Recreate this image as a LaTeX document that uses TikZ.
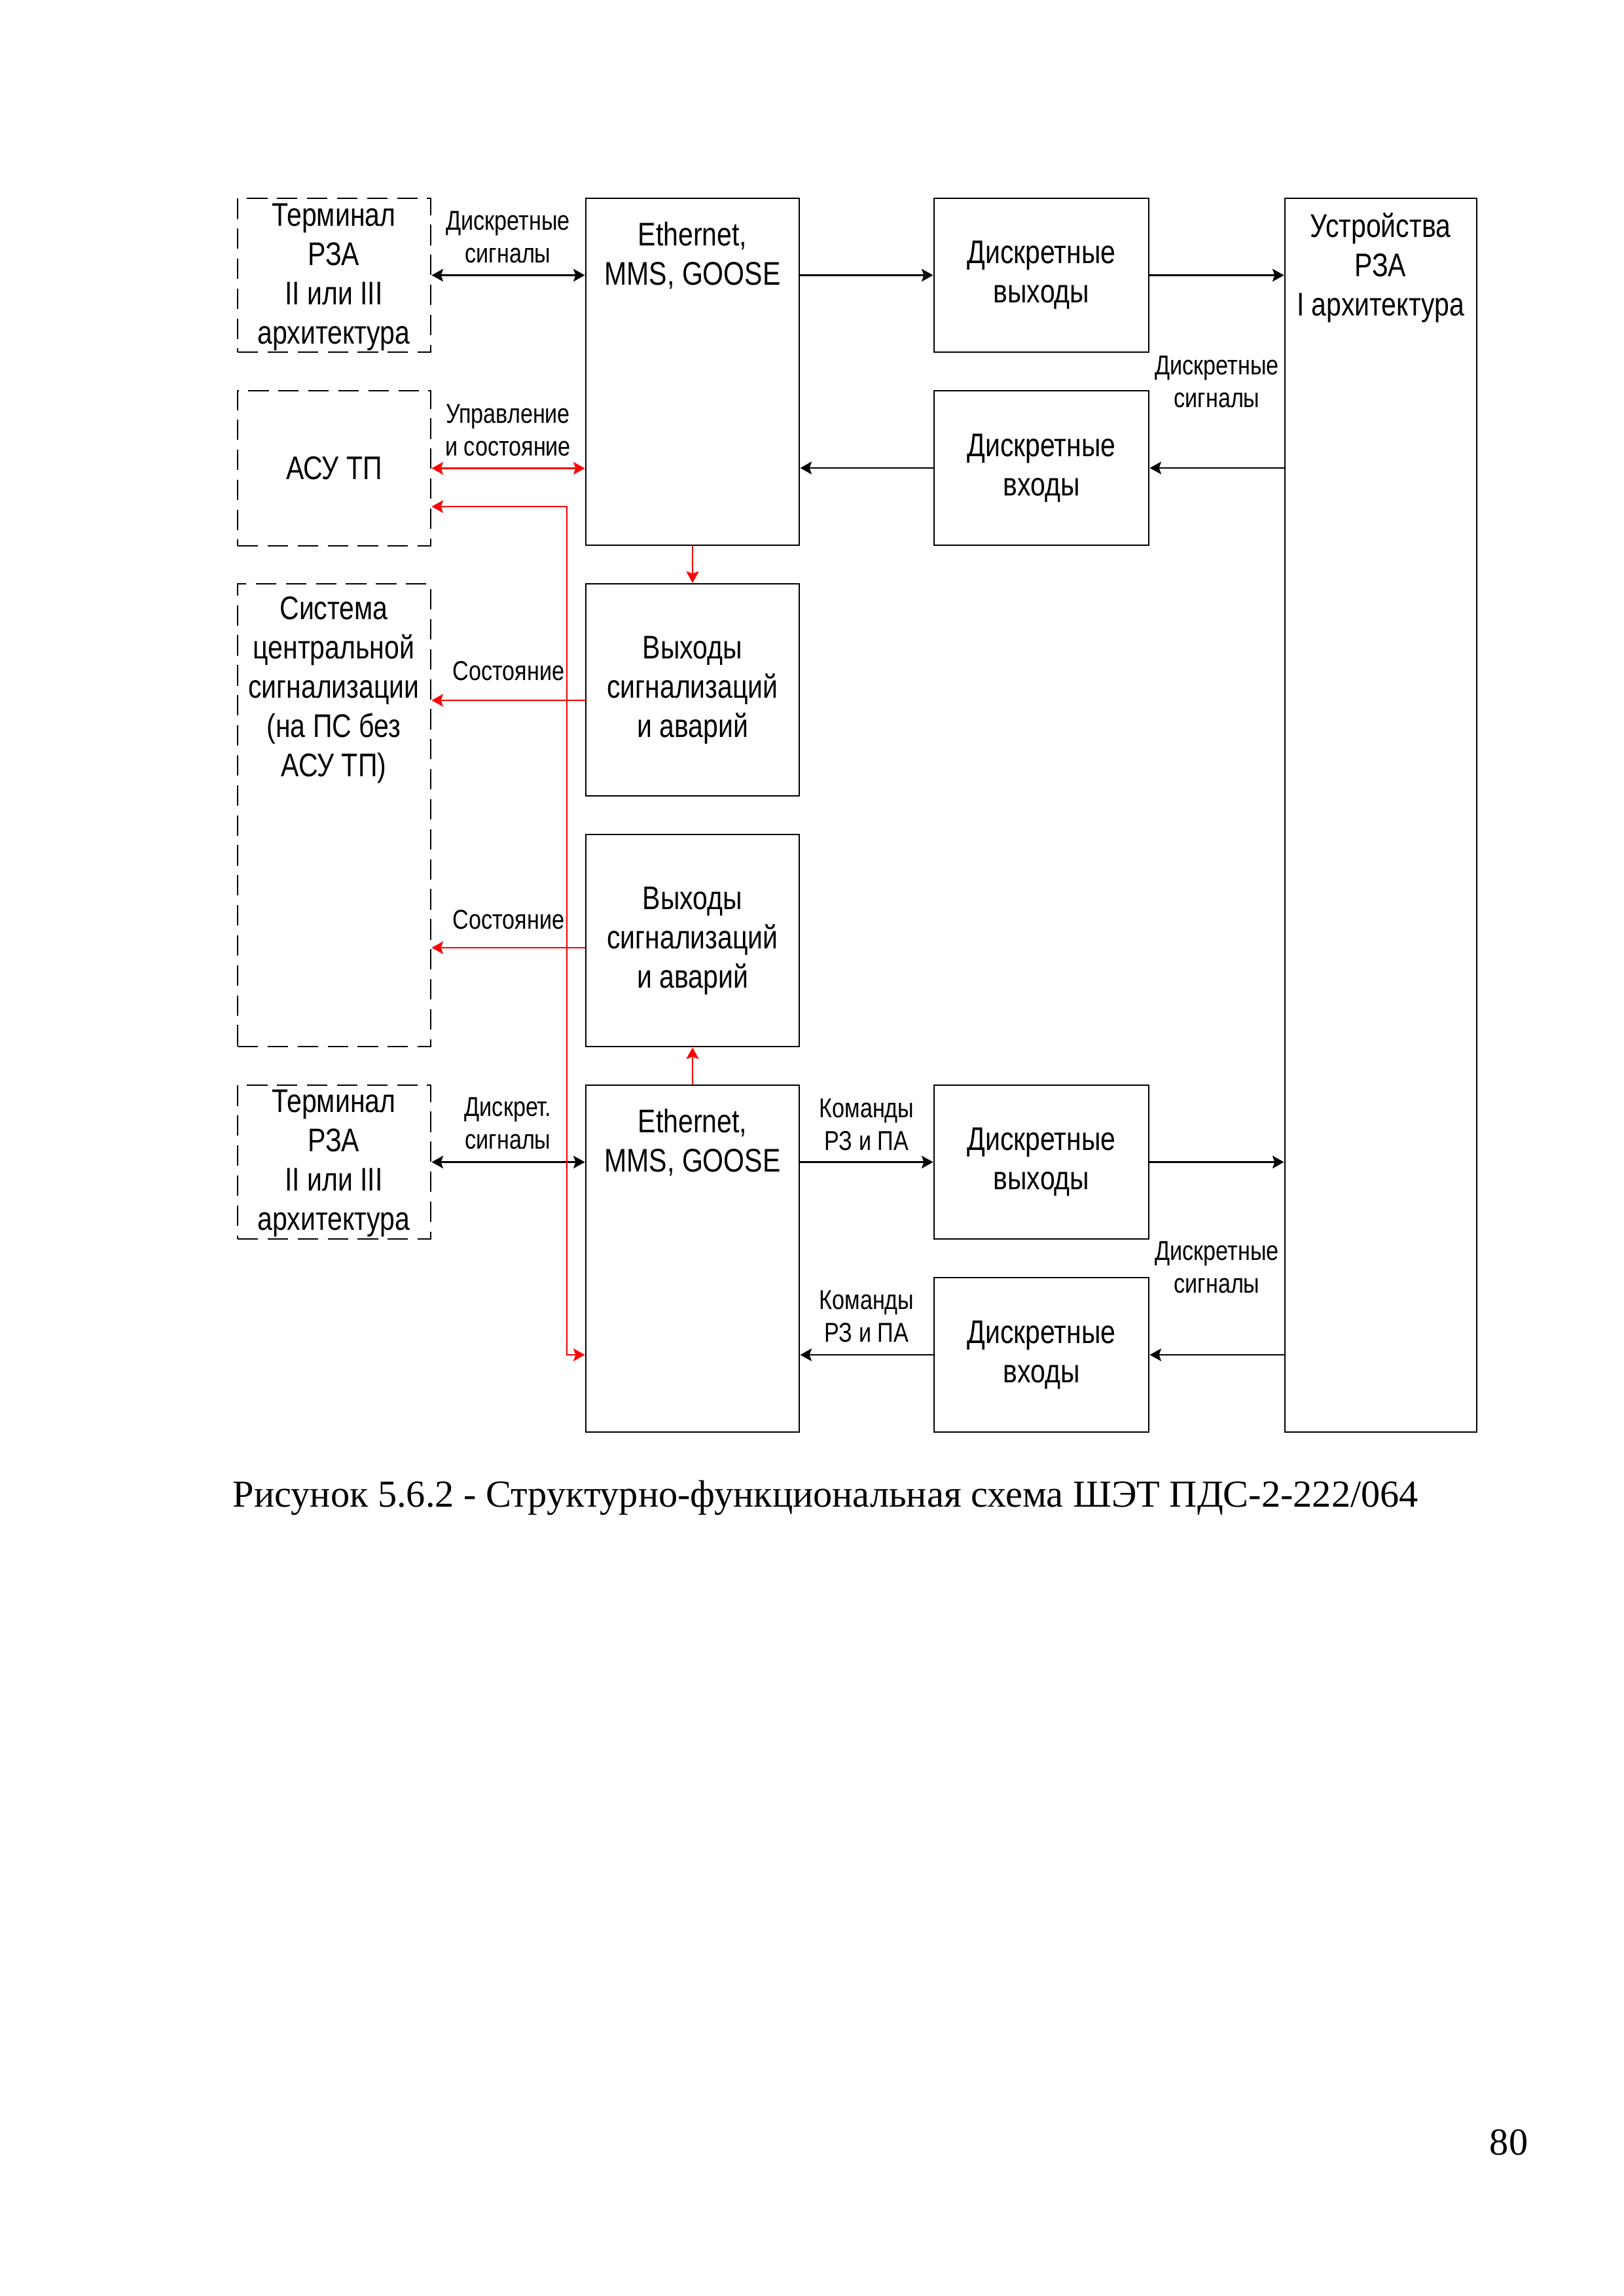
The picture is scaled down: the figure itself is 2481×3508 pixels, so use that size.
\documentclass[tikz,border=0pt]{standalone}
\usepackage{fontspec}
\setmainfont{Liberation Serif}
\newfontfamily\narrowfont[FakeStretch=0.82]{Liberation Sans}
\usetikzlibrary{arrows.meta,fit}

\begin{document}
\begin{tikzpicture}[x=0.239934pt,y=-0.239934pt,
  >={Stealth[length=4.2pt,width=4.6pt,inset=0.8pt]},
  box/.style={draw,line width=0.7pt,inner sep=0pt},
  dbox/.style={box,dash pattern=on 7.5pt off 3.5pt},
  btxt/.style={align=center,inner sep=0pt,font=\narrowfont\fontsize{12}{14.4}\selectfont},
  lbl/.style={align=center,inner sep=0pt,font=\narrowfont\fontsize{10}{12}\selectfont},
  blk/.style={line width=0.7pt},
  rd/.style={line width=0.65pt,draw=red,color=red}
]
\useasboundingbox[fill=white] (0,0) rectangle (2481,3508);

% left column (dashed)
\node[dbox,fit={(363,303)(658,538)}] (t1) {};
\node[dbox,fit={(363,597)(658,834)}] (asu) {};
\node[dbox,fit={(363,892)(658,1599)}] (sys) {};
\node[dbox,fit={(363,1658)(658,1893)}] (t2) {};
% middle column
\node[box,fit={(895,303)(1221,833)}] (e1) {};
\node[box,fit={(895,892)(1221,1216)}] (o1) {};
\node[box,fit={(895,1275)(1221,1599)}] (o2) {};
\node[box,fit={(895,1658)(1221,2188)}] (e2) {};
% right columns
\node[box,fit={(1427,303)(1755,538)}] (dv1) {};
\node[box,fit={(1427,597)(1755,833)}] (di1) {};
\node[box,fit={(1427,1658)(1755,1893)}] (dv2) {};
\node[box,fit={(1427,1952)(1755,2188)}] (di2) {};
\node[box,fit={(1963,303)(2256,2188)}] (dev) {};

% box texts
\node[btxt] (t1x) at (510,423) {Терминал\\РЗА\\II или III\\архитектура};
\node[btxt] (asux) at (asu.center) {АСУ ТП};
\node[btxt] (sysx) at (510,1054) {Система\\центральной\\сигнализации\\(на ПС без\\АСУ ТП)};
\node[btxt] (t2x) at (510,1777) {Терминал\\РЗА\\II или III\\архитектура};
\node[btxt] (e1x) at (1058,391) {Ethernet,\\MMS, GOOSE};
\node[btxt] (o1x) at (o1.center) {Выходы\\сигнализаций\\и аварий};
\node[btxt] (o2x) at (o2.center) {Выходы\\сигнализаций\\и аварий};
\node[btxt] (e2x) at (1058,1746) {Ethernet,\\MMS, GOOSE};
\node[btxt] (dv1x) at (dv1.center) {Дискретные\\выходы};
\node[btxt] (di1x) at (di1.center) {Дискретные\\входы};
\node[btxt] (dv2x) at (dv2.center) {Дискретные\\выходы};
\node[btxt] (di2x) at (di2.center) {Дискретные\\входы};
\node[btxt] (devx) at (2109,409) {Устройства\\РЗА\\I архитектура};

% connector labels
\node[lbl] (l1) at (776,362) {Дискретные\\сигналы};
\node[lbl] (l2) at (776,657) {Управление\\и состояние};
\node[lbl] (l3) at (777,1025) {Состояние};
\node[lbl] (l4) at (777,1405) {Состояние};
\node[lbl] (l5) at (776,1716) {Дискрет.\\сигналы};
\node[lbl] (l6) at (1859,583) {Дискретные\\сигналы};
\node[lbl] (l7) at (1859,1936) {Дискретные\\сигналы};
\node[lbl] (l8) at (1324,1718) {Команды\\РЗ и ПА};
\node[lbl] (l9) at (1324,2011) {Команды\\РЗ и ПА};

% black connectors
\draw[blk,<->] (t1.east) -- (t1.east -| e1.west);
\draw[blk,->] (e1.east |- dv1.west) -- (dv1.west);
\draw[blk,->] (dv1.east) -- (dv1.east -| dev.west);
\draw[blk,->] (di1.east -| dev.west) -- (di1.east);
\draw[blk,->] (di1.west) -- (di1.west -| e1.east);
\draw[blk,<->] (t2.east) -- (t2.east -| e2.west);
\draw[blk,->] (e2.east |- dv2.west) -- (dv2.west);
\draw[blk,->] (dv2.east) -- (dv2.east -| dev.west);
\draw[blk,->] (di2.east -| dev.west) -- (di2.east);
\draw[blk,->] (di2.west) -- (di2.west -| e2.east);

% red connectors
\coordinate (ys1) at (0,1070);
\coordinate (ys2) at (0,1448);
\coordinate (ya) at (0,774);
\coordinate (yb) at (0,2070);
\coordinate (rx) at (866,0);
\draw[rd,<->] (asu.east) -- (asu.east -| e1.west);
\draw[rd,->] (e1.south) -- (o1.north);
\draw[rd,->] (e2.north) -- (o2.south);
\draw[rd,->] (o1.west |- ys1) -- (sys.east |- ys1);
\draw[rd,->] (o2.west |- ys2) -- (sys.east |- ys2);
\draw[rd,<->] (asu.east |- ya) -- (rx |- ya) -- (rx |- yb) -- (e2.west |- yb);

% caption and page number
\node[inner sep=0pt,anchor=base west,font=\fontsize{14}{16}\selectfont] (cap) at (355,2302) {Рисунок 5.6.2 - Структурно-функциональная схема ШЭТ ПДС-2-222/064};
\node[inner sep=0pt,anchor=base,font=\fontsize{14}{16}\selectfont] (pg) at (2305,3292) {80};
\end{tikzpicture}
\end{document}
